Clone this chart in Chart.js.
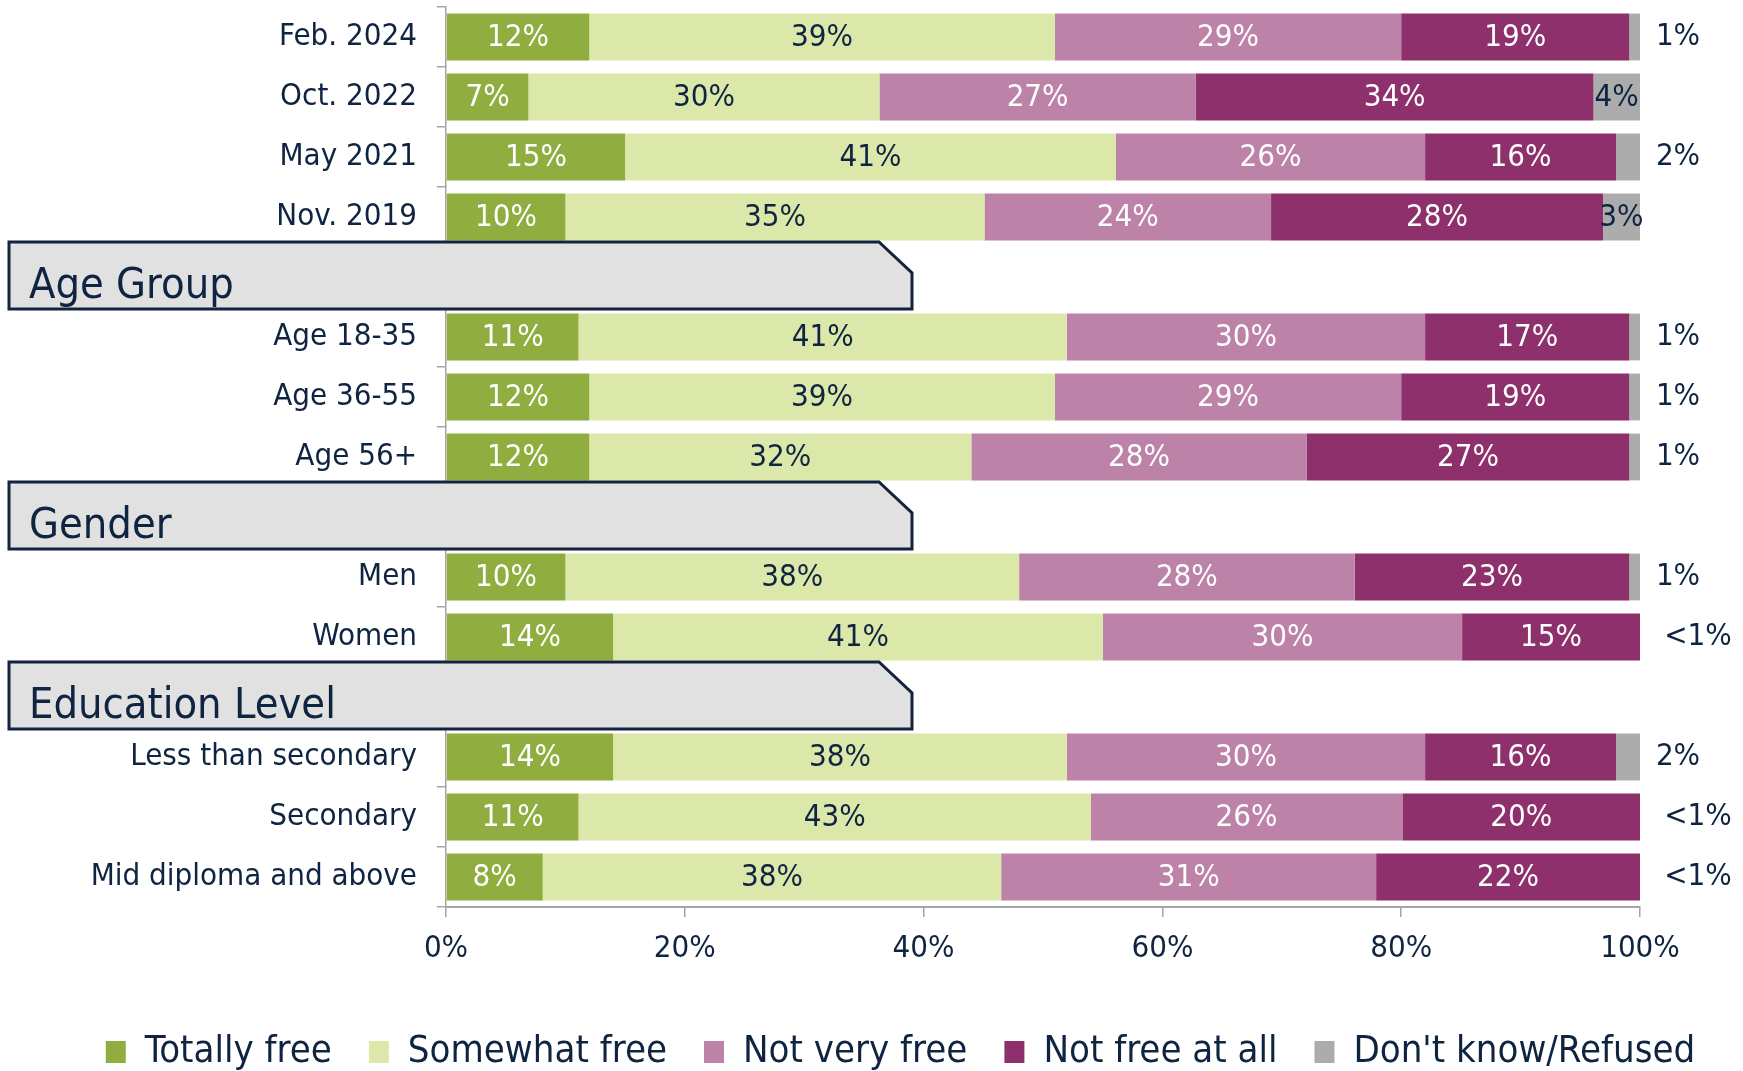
<!DOCTYPE html>
<html>
<head>
<meta charset="utf-8">
<script src="https://cdn.jsdelivr.net/npm/chart.js@4.4.1/dist/chart.umd.min.js"></script>
<style>
  html, body { margin: 0; padding: 0; background: #ffffff; }
  canvas { display: block; }
</style>
</head>
<body>
<canvas id="freedomChart" width="1743" height="1071"></canvas>
<script>
// rows of the chart; group titles take a row of their own
const categories = ['Feb. 2024', 'Oct. 2022', 'May 2021', 'Nov. 2019',
    'Age Group', 'Age 18-35', 'Age 36-55', 'Age 56+',
    'Gender', 'Men', 'Women',
    'Education Level', 'Less than secondary', 'Secondary', 'Mid diploma and above'];
const groupTitles = ['Age Group', 'Gender', 'Education Level'];

const seriesNames = ['Totally free', 'Somewhat free', 'Not very free', 'Not free at all', "Don't know/Refused"];

// bar lengths (percent)
const totallyFree  = [12.0, 6.9, 15.0, 10.0, null, 11.1, 12.0, 12.0, null, 10.0, 14.0, null, 14.0, 11.1, 8.1];
const somewhatFree = [39.0, 29.4, 41.1, 35.1, null, 40.9, 39.0, 32.0, null, 38.0, 41.0, null, 38.0, 42.9, 38.4];
const notVeryFree  = [29.0, 26.5, 25.9, 24.0, null, 30.0, 29.0, 28.1, null, 28.1, 30.1, null, 30.0, 26.1, 31.4];
const notFreeAtAll = [19.1, 33.3, 16.0, 27.8, null, 17.1, 19.1, 27.0, null, 23.0, 14.9, null, 16.0, 19.9, 22.1];
const dontKnow     = [0.9, 3.9, 2.0, 3.1, null, 0.9, 0.9, 0.9, null, 0.9, 0, null, 2.0, 0, 0];

// printed labels (rounded in the source, so they don't always add up)
const totallyFreeLbl  = ['12%', '7%', '15%', '10%', null, '11%', '12%', '12%', null, '10%', '14%', null, '14%', '11%', '8%'];
const somewhatFreeLbl = ['39%', '30%', '41%', '35%', null, '41%', '39%', '32%', null, '38%', '41%', null, '38%', '43%', '38%'];
const notVeryFreeLbl  = ['29%', '27%', '26%', '24%', null, '30%', '29%', '28%', null, '28%', '30%', null, '30%', '26%', '31%'];
const notFreeAtAllLbl = ['19%', '34%', '16%', '28%', null, '17%', '19%', '27%', null, '23%', '15%', null, '16%', '20%', '22%'];
const dontKnowLbl     = ['1%', '4%', '2%', '3%', null, '1%', '1%', '1%', null, '1%', '<1%', null, '2%', '<1%', '<1%'];

const xTicks = [0, 20, 40, 60, 80, 100];

const NAVY = '#0e2441';
const GRID = '#a6a6a6';
const FONT = '"DejaVu Sans Condensed", "DejaVu Sans", sans-serif';
const colors = ['#8fae3f', '#dce8a9', '#bc82a8', '#8e306c', '#acacac'];
const labelColors = ['#ffffff', NAVY, '#ffffff', '#ffffff', NAVY];

const values = [totallyFree, somewhatFree, notVeryFree, notFreeAtAll, dontKnow];
const labels = [totallyFreeLbl, somewhatFreeLbl, notVeryFreeLbl, notFreeAtAllLbl, dontKnowLbl];

const LEFT_PAD = 58;

/**
 * Percent labels inside the segments (small "don't know" go outside)
 */
const segmentLabels = {
    id: 'segmentLabels',
    afterDatasetsDraw(chart) {
        const ctx = chart.ctx;
        const area = chart.chartArea;
        ctx.save();
        ctx.font = '31px ' + FONT;
        ctx.textBaseline = 'middle';
        ctx.textAlign = 'center';
        labels.forEach((lbls, d) => {
            const meta = chart.getDatasetMeta(d);
            meta.data.forEach((bar, i) => {
                const txt = lbls[i];
                if (!txt) return;
                const v = values[d][i];
                if (d === 4 && v < 2.5) {
                    ctx.fillStyle = NAVY;
                    const off = txt.startsWith('<') ? 58 : 38;
                    ctx.fillText(txt, area.right + off, bar.y);
                    return;
                }
                ctx.fillStyle = labelColors[d];
                ctx.fillText(txt, (bar.x + bar.base) / 2, bar.y + 1);
            });
        });
        ctx.restore();
    }
};

/**
 * Grey tab boxes for the group titles
 */
const groupHeaders = {
    id: 'groupHeaders',
    afterDraw(chart) {
        const ctx = chart.ctx;
        const yScale = chart.scales.y;
        ctx.save();
        groupTitles.forEach(title => {
            const idx = categories.indexOf(title);
            const cy = yScale.getPixelForValue(idx);
            const top = cy - 35, bottom = cy + 32;
            const left = 9, right = 912, cut = 33;
            ctx.beginPath();
            ctx.moveTo(left, top);
            ctx.lineTo(right - cut, top);
            ctx.lineTo(right, top + 31);
            ctx.lineTo(right, bottom);
            ctx.lineTo(left, bottom);
            ctx.closePath();
            ctx.fillStyle = '#e1e1e1';
            ctx.fill();
            ctx.lineWidth = 3;
            ctx.strokeStyle = '#14243f';
            ctx.stroke();

            ctx.fillStyle = NAVY;
            ctx.font = '43px ' + FONT;
            ctx.textAlign = 'left';
            ctx.textBaseline = 'alphabetic';
            ctx.fillText(title, 29, bottom - 11);
        });
        ctx.restore();
    }
};

new Chart(document.getElementById('freedomChart'), {
    type: 'bar',
    data: {
        labels: categories,
        datasets: values.map((vals, d) => ({
            label: seriesNames[d],
            data: vals,
            backgroundColor: colors[d],
            borderWidth: 0,
            categoryPercentage: 1,
            barPercentage: 0.78
        }))
    },
    options: {
        indexAxis: 'y',
        responsive: false,
        animation: false,
        devicePixelRatio: 1,
        layout: { padding: { top: 7, left: LEFT_PAD, right: 0, bottom: -10 } },
        scales: {
            x: {
                stacked: true,
                min: 0,
                max: 100,
                afterBuildTicks: scale => { scale.ticks = xTicks.map(v => ({ value: v })); },
                afterFit: scale => { scale.height = 89; scale.paddingRight = 103; },
                ticks: {
                    callback: v => v + '%',
                    color: NAVY,
                    font: { family: FONT, size: 31 },
                    padding: 13,
                    maxRotation: 0
                },
                grid: { drawOnChartArea: false, tickLength: 10, color: GRID, lineWidth: 1.5 },
                border: { color: GRID, width: 2 }
            },
            y: {
                stacked: true,
                afterFit: scale => {
                    scale.width = 446 - LEFT_PAD;
                    scale.paddingTop = 0;
                    scale.paddingBottom = 0;
                },
                ticks: {
                    callback: (v, i) => groupTitles.includes(categories[i]) ? '' : categories[i],
                    color: NAVY,
                    font: { family: FONT, size: 31 },
                    padding: 20,
                    autoSkip: false
                },
                grid: { drawOnChartArea: false, offset: true, tickLength: 9, color: GRID, lineWidth: 1.5 },
                border: { color: GRID, width: 1.5 }
            }
        },
        plugins: {
            legend: {
                position: 'bottom',
                labels: {
                    color: NAVY,
                    font: { family: FONT, size: 38 },
                    boxWidth: 20,
                    boxHeight: 22,
                    padding: 37
                }
            },
            tooltip: { enabled: false }
        }
    },
    plugins: [segmentLabels, groupHeaders]
});
</script>
</body>
</html>
